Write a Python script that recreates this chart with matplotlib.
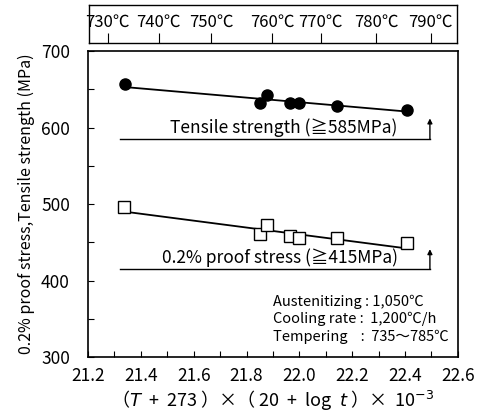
import numpy as np
import matplotlib
matplotlib.use("Agg")
import matplotlib.pyplot as plt
from matplotlib.ticker import MultipleLocator

plt.rcParams['font.family'] = ['Noto Sans CJK JP', 'DejaVu Sans']
plt.rcParams['mathtext.fontset'] = 'dejavusans'

# tensile strength (filled circles)
ts_x = [21.34, 21.85, 21.876, 21.964, 22.0, 22.141, 22.406]
ts_y = [657, 632, 642, 632, 632, 628, 623]
ts_fit_x = [21.34, 22.406]
ts_fit_y = [653, 621]

# 0.2% proof stress (open squares)
ps_x = [21.336, 21.85, 21.876, 21.964, 22.0, 22.141, 22.406]
ps_y = [496, 461, 472, 458, 456, 455, 449]
ps_fit_x = [21.34, 22.406]
ps_fit_y = [490, 442]

# specification limits
spec_x = [21.32, 22.494]
ts_spec = 585
ps_spec = 415

# top axis: tempering temperature positions on the LMP scale
temp_pos = [21.272, 21.465, 21.665, 21.896, 22.082, 22.293, 22.50]
temp_lab = ['730℃', '740℃', '750℃', '760℃', '770℃', '780℃', '790℃']

fig = plt.figure(figsize=(4.78, 4.19), dpi=100)

ax = fig.add_axes([0.184, 0.148, 0.774, 0.730])
ax.plot(ts_fit_x, ts_fit_y, color='black', lw=1.3, zorder=2)
ax.plot(ts_x, ts_y, 'o', color='black', ms=8, zorder=3)
ax.plot(ps_fit_x, ps_fit_y, color='black', lw=1.3, zorder=2)
ax.plot(ps_x, ps_y, 's', mfc='white', mec='black', mew=1.0, ms=8, zorder=3)

for lim, top, label, lx in [(ts_spec, 612, 'Tensile strength (≧585MPa)', 21.51),
                            (ps_spec, 441, '0.2% proof stress (≧415MPa)', 21.48)]:
    ax.plot(spec_x, [lim, lim], color='black', lw=1.0)
    ax.annotate('', xy=(spec_x[1], top), xytext=(spec_x[1], lim),
                arrowprops=dict(arrowstyle='-|>', color='black', lw=1.0,
                                mutation_scale=7, shrinkA=0, shrinkB=0))
    ax.text(lx, lim + 3, label, fontsize=12.5, va='bottom', ha='left')

ax.text(21.9, 317, 'Austenitizing : 1,050℃\nCooling rate :  1,200℃/h\nTempering    :  735～785℃',
        fontsize=10.5, va='bottom', ha='left', linespacing=1.3)

ax.set_xlim(21.2, 22.6)
ax.set_ylim(300, 700)
ax.xaxis.set_major_locator(MultipleLocator(0.2))
ax.xaxis.set_minor_locator(MultipleLocator(0.1))
ax.yaxis.set_major_locator(MultipleLocator(100))
ax.yaxis.set_minor_locator(MultipleLocator(50))
ax.set_xticklabels([f'{v:.1f}' for v in ax.get_xticks()])
ax.tick_params(which='both', direction='in', length=4, width=0.8, labelsize=12.5)
ax.tick_params(axis='x', pad=7)
ax.tick_params(axis='y', pad=13)
for s in ax.spines.values():
    s.set_linewidth(1.2)
ax.set_ylabel('0.2% proof stress,Tensile strength (MPa)', fontsize=11.5, labelpad=4)
ax.set_xlabel(r'（$T$  +  273 ）×（ 20  +  log  $t$ ）×  10$^{-3}$', fontsize=13, labelpad=3)

# top temperature scale
ax2 = fig.add_axes([0.186, 0.897, 0.770, 0.091])
ax2.set_xlim(21.2, 22.6)
ax2.set_ylim(0, 1)
ax2.set_xticks(temp_pos)
ax2.set_xticklabels([])
ax2.set_yticks([])
ax2.tick_params(axis='x', direction='in', length=7, width=0.8)
for p, l in zip(temp_pos, temp_lab):
    ax2.text(p, 0.55, l, ha='center', va='center', fontsize=12)
for s in ax2.spines.values():
    s.set_linewidth(1.0)

fig.savefig('out.png', dpi=100)
